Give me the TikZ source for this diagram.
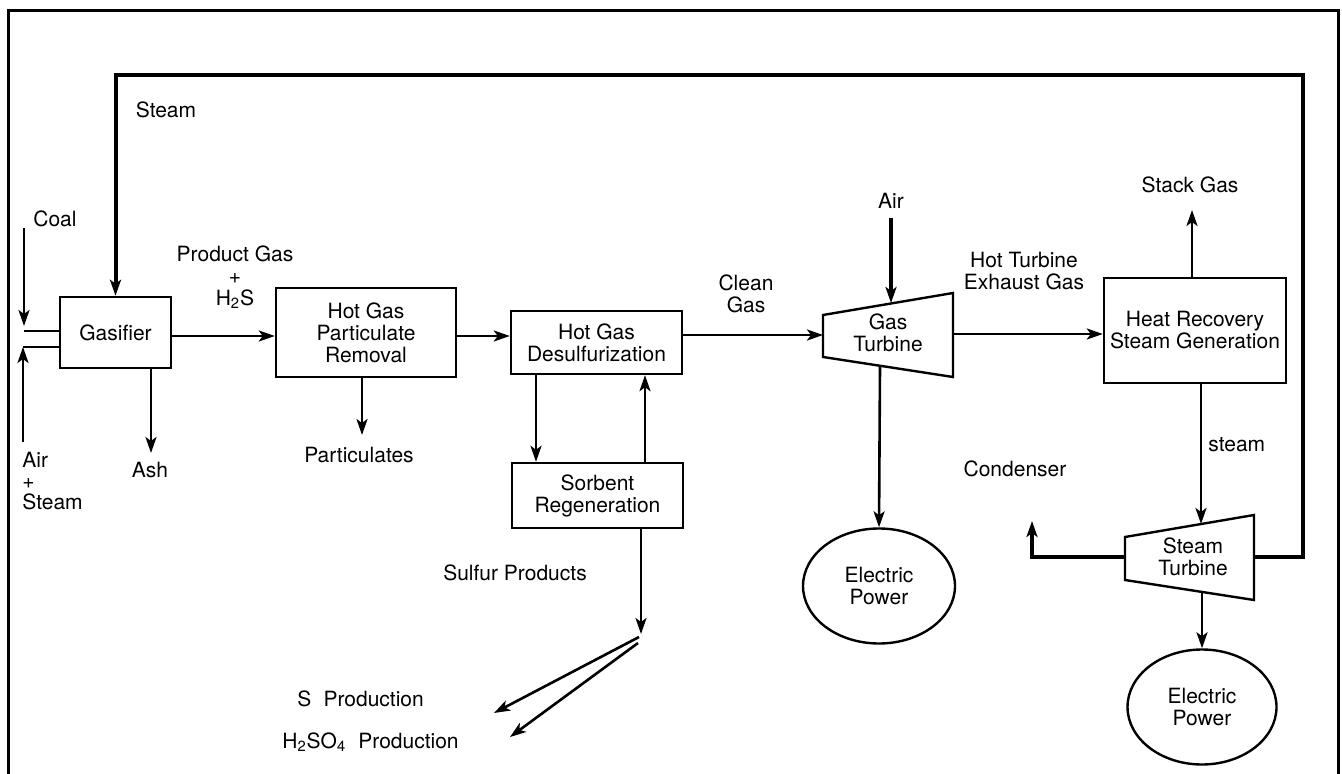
\documentclass[tikz,border=0pt]{standalone}
\usepackage{fontspec}
\setmainfont{TeX Gyre Heros}
\usetikzlibrary{arrows.meta,shapes.geometric,calc}
\begin{document}
\begin{tikzpicture}[x={(0.5pt,0)}, y={(0,-0.5pt)},
  every node/.style={font=\fontsize{10.5}{11}\selectfont, inner sep=0pt},
  box/.style={draw, line width=1.2pt, rectangle, align=center},
  oval/.style={draw, line width=1.2pt, ellipse, align=center},
  tip/.style={-{Stealth[length=8pt,width=5.5pt,inset=2pt]}},
  flow/.style={line width=1.3pt, tip},
  plain/.style={line width=1.3pt},
  heavy/.style={line width=2pt},
  lbl/.style={align=center},
]
\useasboundingbox (0,0) rectangle (1342,774);
% outer frame
\draw[line width=1.5pt] (8,11) rectangle (1338,800);

% process units
\node[box, minimum width=55.5pt, minimum height=35.5pt] (gas) at (115.5,332.5) {Gasifier};
\node[box, minimum width=90pt, minimum height=44.5pt] (pr) at (366,332.5) {Hot Gas\\Particulate\\Removal};
\node[box, minimum width=85.5pt, minimum height=31.5pt] (hgd) at (596.5,342.5) {Hot Gas\\Desulfurization};
\node[box, minimum width=85.5pt, minimum height=32.5pt] (sorb) at (597.5,495.5) {Sorbent\\Regeneration};
\node[box, minimum width=91pt, minimum height=52.5pt] (hrsg) at (1195,330.5) {Heat Recovery\\Steam Generation};
\node[oval, minimum width=76pt, minimum height=57.5pt] (ep1) at (879,586) {Electric\\Power};
\node[oval, minimum width=74.5pt, minimum height=57.5pt] (ep2) at (1202,707) {Electric\\Power};

% gas turbine
\coordinate (gtA) at (823,315);
\coordinate (gtB) at (953,293);
\coordinate (gtC) at (953,377);
\coordinate (gtD) at (823,357);
\draw[line width=1.2pt] (gtA) -- (gtB) -- (gtC) -- (gtD) -- cycle;
\node[lbl] (gt) at (888,333) {Gas\\Turbine};

% steam turbine
\coordinate (stA) at (1125,537);
\coordinate (stB) at (1254,515);
\coordinate (stC) at (1254,600);
\coordinate (stD) at (1125,580);
\draw[line width=1.2pt] (stA) -- (stB) -- (stC) -- (stD) -- cycle;
\node[lbl] (st) at (1193,557) {Steam\\Turbine};

% feeds to the gasifier
\coordinate (coalT) at (24,228);
\coordinate (coalTip) at (24,326);
\coordinate (coalB) at (24,331);
\draw[flow] (coalT) -- (coalTip);
\draw[plain] (coalB) -- (coalB -| gas.west);
\node[anchor=west] (coal) at (33,219) {Coal};

\coordinate (airB) at (23,442);
\coordinate (airT) at (23,347);
\draw[flow] (airB) -- (airT);
\draw[plain] (airT) -- (airT -| gas.west);
\node[anchor=north west, align=left, font=\fontsize{10.5}{10.5}\selectfont] (airst) at (22,452) {Air\\+\\Steam};

% ash
\coordinate (ashTip) at (151,453);
\draw[flow] (gas.south -| ashTip) -- (ashTip);
\node (ash) at (150,470) {Ash};

% product gas
\coordinate (pg) at (200,336);
\draw[flow] (gas.east |- pg) -- (pr.west |- pg);
\node[lbl] (pglbl) at (235,277) {Product Gas\\+\\H\textsubscript{2}S};

% particulates
\coordinate (partTip) at (362,435);
\draw[flow] (pr.south -| partTip) -- (partTip);
\node (part) at (359,455) {Particulates};

% to desulfurization
\coordinate (dg) at (480,336);
\draw[flow] (pr.east |- dg) -- (hgd.west |- dg);

% sorbent loop
\coordinate (sdn) at (536,420);
\coordinate (sup) at (645,420);
\draw[flow] (hgd.south -| sdn) -- (sorb.north -| sdn);
\draw[flow] (sorb.north -| sup) -- (hgd.south -| sup);

% sulfur products
\coordinate (fork) at (641,634);
\draw[flow] (sorb.south -| fork) -- (fork);
\node (sp) at (515,573) {Sulfur Products};
\coordinate (fA) at (639,637);
\coordinate (fB) at (638,643);
\coordinate (sTip) at (494,713);
\coordinate (hTip) at (510,737);
\draw[flow] (fA) -- (sTip);
\draw[flow] (fB) -- (hTip);
\node[anchor=west] (sprod) at (297,699) {S\hspace{0.3em} Production};
\node[anchor=west] (hprod) at (282,742) {H\textsubscript{2}SO\textsubscript{4}\hspace{0.3em} Production};

% clean gas to the gas turbine
\coordinate (gtin) at (823,335);
\draw[flow] (hgd.east |- gtin) -- (gtin);
\node[lbl] (clean) at (746,294) {Clean\\Gas};

% combustion air
\coordinate (airTop) at (891,218);
\coordinate (airIn) at (891,303);
\draw[heavy, tip] (airTop) -- (airIn);
\node (air) at (891,201) {Air};

% gas turbine power
\coordinate (gtOut) at (880,366);
\draw[flow] (gtOut) -- (ep1.north);

% exhaust gas to heat recovery
\coordinate (gtEx) at (953,334);
\draw[flow] (gtEx) -- (hrsg.west |- gtEx);
\node[lbl] (hot) at (1024,271) {Hot Turbine\\Exhaust Gas};

% stack gas
\coordinate (stack) at (1192,210);
\draw[flow] (hrsg.north -| stack) -- (stack);
\node (stk) at (1190,185) {Stack Gas};

% steam to the steam turbine
\coordinate (stIn) at (1201,524);
\draw[flow] (hrsg.south -| stIn) -- (stIn);
\node[anchor=west] (stm) at (1208,445) {steam};

% steam turbine power
\coordinate (stOut) at (1202,592);
\draw[flow] (stOut) -- (ep2.north);

% condenser
\coordinate (stL) at (1125,557);
\coordinate (cond) at (1032,521);
\draw[heavy, tip] (stL) -| (cond);
\node (condl) at (1015,469) {Condenser};

% steam recycle to the gasifier
\coordinate (stR) at (1254,557);
\coordinate (loopR) at (1303,75);
\draw[heavy, tip] (stR) -| (loopR) -| (gas.north);
\node (stml) at (166,110) {Steam};
\end{tikzpicture}
\end{document}
